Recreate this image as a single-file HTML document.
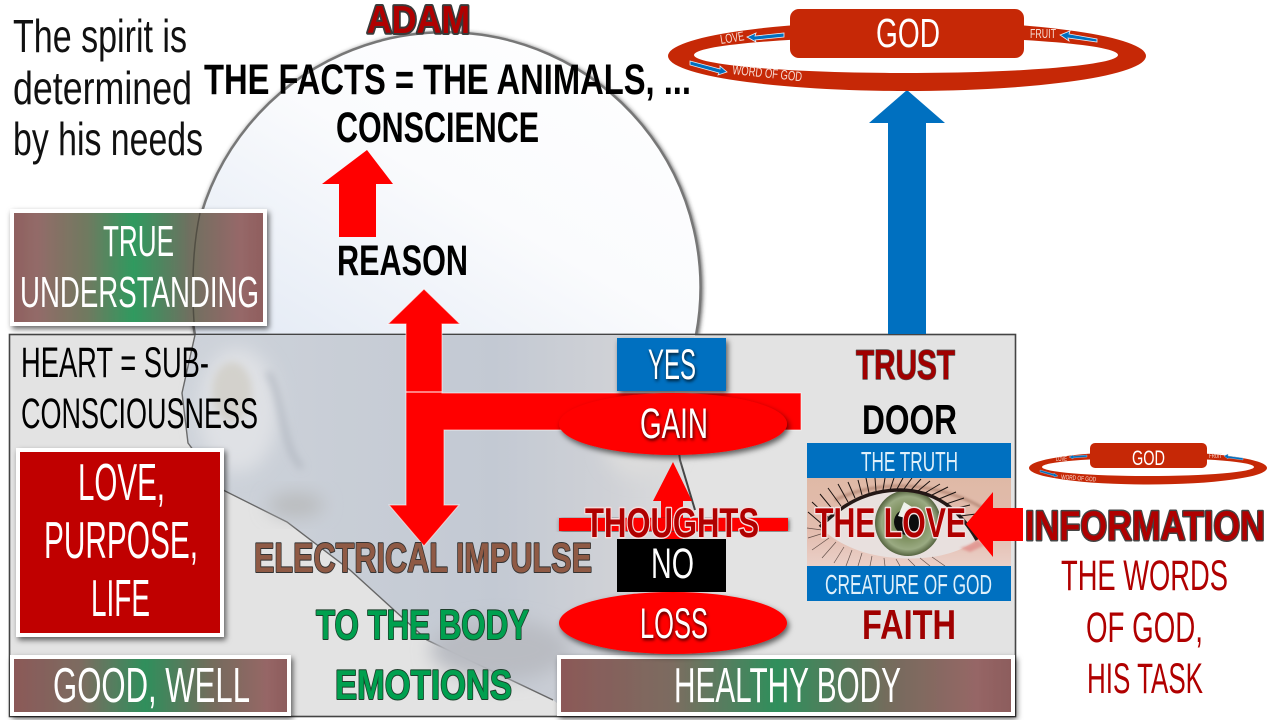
<!DOCTYPE html>
<html><head><meta charset="utf-8">
<style>
html,body{margin:0;padding:0;background:#fff;width:1280px;height:720px;overflow:hidden}
svg{display:block}
text{font-family:"Liberation Sans Narrow","Liberation Sans",sans-serif;text-anchor:start}
.b{font-weight:700}
.w{fill:#fff}
.s{fill:#fff;filter:drop-shadow(1px 2px 1.5px rgba(0,0,0,.75))}
.o{paint-order:stroke;stroke-linejoin:round}
</style></head><body>
<svg width="1280" height="720" viewBox="0 0 1280 720" xmlns="http://www.w3.org/2000/svg">
<defs>
<filter id="sh" x="-20%" y="-20%" width="140%" height="150%"><feDropShadow dx="2" dy="3" stdDeviation="3" flood-color="#000" flood-opacity=".6"/></filter>
<filter id="sh2" x="-5%" y="-5%" width="110%" height="110%"><feDropShadow dx="1" dy="1" stdDeviation="2" flood-color="#333" flood-opacity=".8"/></filter>
<filter id="bl" x="-50%" y="-50%" width="200%" height="200%"><feGaussianBlur stdDeviation="9"/></filter>
<filter id="bl2" x="-50%" y="-50%" width="200%" height="200%"><feGaussianBlur stdDeviation="4"/></filter>
<filter id="bl3" x="-50%" y="-50%" width="200%" height="200%"><feGaussianBlur stdDeviation="1.2"/></filter>
<linearGradient id="gr" x1="0" x2="1" y1="0" y2="0">
<stop offset="0" stop-color="#8e5f5f"/><stop offset=".1" stop-color="#936b68"/><stop offset=".3" stop-color="#6f7a60"/><stop offset=".48" stop-color="#2f9a5e"/><stop offset=".7" stop-color="#6f7060"/><stop offset=".9" stop-color="#966868"/><stop offset="1" stop-color="#8f5e5e"/></linearGradient>
<linearGradient id="gr2" x1="0" x2="1" y1="0" y2="0">
<stop offset="0" stop-color="#8c5858"/><stop offset=".25" stop-color="#7c6c60"/><stop offset=".48" stop-color="#2f8f5c"/><stop offset=".72" stop-color="#736c5c"/><stop offset=".92" stop-color="#966666"/><stop offset="1" stop-color="#8c5c5c"/></linearGradient>
<linearGradient id="headTop" x1="0" x2="1" y1="1" y2="0">
<stop offset="0" stop-color="#e2e9f4"/><stop offset=".5" stop-color="#fafbfd"/><stop offset="1" stop-color="#ffffff"/></linearGradient>
<linearGradient id="headLow" x1="0" x2="1" y1="0" y2="0">
<stop offset="0" stop-color="#ced3da"/><stop offset=".6" stop-color="#c3c9d3"/><stop offset=".82" stop-color="#cfd1d6"/><stop offset="1" stop-color="#dfdfdf"/></linearGradient>
<radialGradient id="iris"><stop offset="0" stop-color="#3c4a2c"/><stop offset=".45" stop-color="#7d8f5e"/><stop offset=".8" stop-color="#9aaa82"/><stop offset="1" stop-color="#55633f"/></radialGradient>
<linearGradient id="skin" x1="0" x2="0" y1="0" y2="1"><stop offset="0" stop-color="#dfb9a6"/><stop offset=".6" stop-color="#e3bcae"/><stop offset="1" stop-color="#ead0c8"/></linearGradient>
<clipPath id="boxClip"><rect x="10" y="335" width="1005" height="381"/></clipPath>
<clipPath id="eyeClip"><rect x="807" y="478" width="204" height="88"/></clipPath>
</defs>

<!-- head -->
<path d="M195,335 A255,255 0 1 1 696,335 Z" fill="url(#headTop)" stroke="#777" stroke-width="2.5" filter="url(#sh2)"/>

<!-- heart box -->
<rect x="9.5" y="334.5" width="1006" height="382" fill="#e3e3e3" stroke="#444" stroke-width="1.6"/>
<g clip-path="url(#boxClip)">
<path d="M195,335 L695,335 L672,400 L680,460 L695,510 L702,560 L690,610 L660,680 L640,717 L575,717 L553,700 L427,640 L350,570 L287,522 L223,490 L188,443 L182,393 Z" fill="url(#headLow)"/>
<path d="M195,335 L182,393 L188,443 L223,490 L287,522 L350,570 L427,640 L553,700" fill="none" stroke="#666" stroke-width="1.4"/>
<path d="M672,400 L680,460 L695,510" fill="none" stroke="#444" stroke-width="2"/>
<ellipse cx="238" cy="410" rx="40" ry="62" fill="#dfe1e5" filter="url(#bl)"/>
<ellipse cx="232" cy="392" rx="20" ry="30" fill="#d3d1cc" filter="url(#bl2)"/>
<path d="M268,372 C285,400 280,445 302,468" fill="none" stroke="#b2b8c1" stroke-width="5" filter="url(#bl2)"/>
<ellipse cx="296" cy="505" rx="28" ry="12" fill="#b9bbbd" filter="url(#bl)"/>
<ellipse cx="640" cy="445" rx="36" ry="32" fill="#dcdcdc" filter="url(#bl)"/>
<ellipse cx="500" cy="650" rx="70" ry="30" fill="#b9bcc2" filter="url(#bl)"/>
</g>

<!-- left top text -->
<text x="13" y="52" font-size="46" fill="#111" textLength="174" lengthAdjust="spacingAndGlyphs">The spirit is</text>
<text x="13" y="104" font-size="46" fill="#111" textLength="179" lengthAdjust="spacingAndGlyphs">determined</text>
<text x="13" y="155" font-size="46" fill="#111" textLength="190" lengthAdjust="spacingAndGlyphs">by his needs</text>

<text x="367" y="33" font-size="39" class="b o" fill="#b00000" stroke="#3a3a3a" stroke-width="4" textLength="103" lengthAdjust="spacingAndGlyphs">ADAM</text>
<text x="204" y="94" font-size="43" class="b" fill="#000" textLength="487" lengthAdjust="spacingAndGlyphs">THE FACTS = THE ANIMALS, ...</text>
<text x="336" y="142" font-size="43" class="b" fill="#000" textLength="203" lengthAdjust="spacingAndGlyphs">CONSCIENCE</text>
<text x="337" y="275" font-size="43" class="b" fill="#000" textLength="131" lengthAdjust="spacingAndGlyphs">REASON</text>

<!-- red up arrow -->
<path d="M367,150 L393,184 L376,184 L376,237 L339,237 L339,184 L322,184 Z" fill="#f00"/>

<!-- true understanding -->
<rect x="12" y="211" width="253" height="113" fill="url(#gr)" stroke="#fff" stroke-width="4" filter="url(#sh)"/>
<path d="M200,213 C192,250 192,290 194,322" fill="none" stroke="#000" stroke-opacity=".3" stroke-width="1.5"/>
<text x="103" y="256" font-size="44" class="w" textLength="71" lengthAdjust="spacingAndGlyphs">TRUE</text>
<text x="20" y="307" font-size="44" class="w" textLength="239" lengthAdjust="spacingAndGlyphs">UNDERSTANDING</text>

<!-- heart text -->
<text x="21" y="377" font-size="43" fill="#000" textLength="188" lengthAdjust="spacingAndGlyphs">HEART = SUB-</text>
<text x="21" y="428" font-size="43" fill="#000" textLength="237" lengthAdjust="spacingAndGlyphs">CONSCIOUSNESS</text>

<!-- love box -->
<rect x="18" y="450" width="204" height="185" fill="#c00000" stroke="#fff" stroke-width="4" filter="url(#sh)"/>
<text x="78" y="500" font-size="52" class="w" textLength="87" lengthAdjust="spacingAndGlyphs">LOVE,</text>
<text x="44" y="558" font-size="52" class="w" textLength="154" lengthAdjust="spacingAndGlyphs">PURPOSE,</text>
<text x="91" y="616" font-size="52" class="w" textLength="59" lengthAdjust="spacingAndGlyphs">LIFE</text>

<!-- bottom boxes -->
<rect x="12" y="657" width="277" height="57" fill="url(#gr2)" stroke="#fff" stroke-width="4" filter="url(#sh)"/>
<text x="53" y="702" font-size="49" class="w" textLength="197" lengthAdjust="spacingAndGlyphs">GOOD, WELL</text>
<rect x="559" y="657" width="454" height="57" fill="url(#gr2)" stroke="#fff" stroke-width="4" filter="url(#sh)"/>
<text x="674" y="702" font-size="49" class="w" textLength="227" lengthAdjust="spacingAndGlyphs">HEALTHY BODY</text>

<!-- T arrows -->
<path d="M424,289 L460,324 L442,324 L442,393 L801,393 L801,430 L444,430 L444,505 L459,505 L424,546 L389,505 L406,505 L406,324 L388,324 Z" fill="#f00" stroke="#fff" stroke-opacity=".6" stroke-width="1"/>
<line x1="406" y1="392" x2="442" y2="392" stroke="#fff" stroke-width="1"/>

<!-- yes/gain -->
<rect x="617" y="338" width="109" height="53" fill="#0070c0" filter="url(#sh)"/>
<ellipse cx="673" cy="424" rx="114" ry="31" fill="#f00" filter="url(#sh)"/>
<text x="648" y="379" font-size="43" class="s" textLength="48" lengthAdjust="spacingAndGlyphs">YES</text>
<text x="640" y="438" font-size="43" class="s" textLength="68" lengthAdjust="spacingAndGlyphs">GAIN</text>

<!-- small arrow + bar -->
<path d="M673,462 L692,501 L683,501 L683,540 L661,540 L661,501 L653,501 Z" fill="#f00"/>
<rect x="559" y="518" width="229" height="13" fill="#f00" filter="url(#sh2)"/>
<rect x="617" y="539" width="109" height="53" fill="#000"/>
<text x="651" y="578" font-size="43" class="w" textLength="43" lengthAdjust="spacingAndGlyphs">NO</text>
<ellipse cx="673" cy="623" rx="114" ry="31" fill="#f00" filter="url(#sh)"/>
<text x="640" y="638" font-size="43" class="s" textLength="68" lengthAdjust="spacingAndGlyphs">LOSS</text>
<text x="585" y="537" font-size="42" class="b o" fill="#b00000" stroke="#f4dcdc" stroke-width="3" textLength="174" lengthAdjust="spacingAndGlyphs">THOUGHTS</text>

<!-- colored labels -->
<text x="254" y="572" font-size="42" class="b o" fill="#8f5a45" stroke="#333" stroke-width="2" textLength="338" lengthAdjust="spacingAndGlyphs">ELECTRICAL IMPULSE</text>
<text x="316" y="639" font-size="42" class="b o" fill="#00a04f" stroke="#1d3d2a" stroke-width="2" textLength="213" lengthAdjust="spacingAndGlyphs">TO THE BODY</text>
<text x="335" y="699" font-size="42" class="b o" fill="#00a04f" stroke="#1d3d2a" stroke-width="2" textLength="177" lengthAdjust="spacingAndGlyphs">EMOTIONS</text>

<text x="856" y="379" font-size="42" class="b o" fill="#a00000" stroke="#555" stroke-width="1.5" textLength="99" lengthAdjust="spacingAndGlyphs">TRUST</text>
<text x="862" y="434" font-size="42" class="b" fill="#000" textLength="95" lengthAdjust="spacingAndGlyphs">DOOR</text>
<text x="862" y="639" font-size="42" class="b" fill="#a00000" textLength="94" lengthAdjust="spacingAndGlyphs">FAITH</text>

<!-- blue arrow -->
<path d="M907,90 L945,123 L926,123 L926,334 L888,334 L888,123 L869,123 Z" fill="#0070c0"/>

<!-- big ring -->
<g>
<path fill-rule="evenodd" d="M668,56 a239,35 0 1,0 478,0 a239,35 0 1,0 -478,0 Z M694,55 a212,18 0 1,1 424,0 a212,18 0 1,1 -424,0 Z" fill="#c62806"/>
<rect x="790" y="9" width="234" height="49" rx="9" fill="#c62806"/>
<text x="876" y="47" font-size="41" class="w" textLength="64" lengthAdjust="spacingAndGlyphs">GOD</text>
<text x="721" y="44" font-size="13" fill="#f6dcd4" transform="rotate(-9 721 44)" textLength="24" lengthAdjust="spacingAndGlyphs">LOVE</text>
<path d="M747,37 L756,33 L755,36 L784,33 L784,37 L755,40 L756,42 Z" fill="#0070c0" stroke="#e8eef6" stroke-width=".8"/>
<text x="1030" y="38" font-size="13" fill="#f6dcd4" textLength="26" lengthAdjust="spacingAndGlyphs">FRUIT</text>
<path d="M1060,35 L1070,31 L1069,34 L1097,39 L1097,42 L1068,38 L1069,41 Z" fill="#0070c0" stroke="#e8eef6" stroke-width=".8"/>
<path d="M690,61 L720,69 L720,66 L727,72 L718,75 L719,73 L690,65 Z" fill="#0070c0" stroke="#e8eef6" stroke-width=".8"/>
<text x="732" y="74" font-size="13.5" fill="#f6dcd4" transform="rotate(6 732 74)" textLength="70" lengthAdjust="spacingAndGlyphs">WORD OF GOD</text>
</g>

<!-- small ring -->
<g>
<path fill-rule="evenodd" d="M1029,468 a119,16.5 0 1,0 238,0 a119,16.5 0 1,0 -238,0 Z M1042,467 a106,9 0 1,1 212,0 a106,9 0 1,1 -212,0 Z" fill="#c62806"/>
<rect x="1090" y="443" width="117" height="25" rx="5" fill="#c62806"/>
<text x="1132" y="465" font-size="21" class="w" textLength="33" lengthAdjust="spacingAndGlyphs">GOD</text>
<text x="1056" y="461" font-size="6.5" fill="#f6dcd4" textLength="11" lengthAdjust="spacingAndGlyphs">LOVE</text>
<path d="M1069,457 L1073,455 L1073,456 L1087,455 L1087,457 L1073,458 L1073,459 Z" fill="#0070c0" stroke="#b9c8dc" stroke-width=".4"/>
<text x="1209" y="458" font-size="6.5" fill="#f6dcd4" textLength="13" lengthAdjust="spacingAndGlyphs">FRUIT</text>
<path d="M1224,456 L1228,454 L1228,456 L1243,458 L1243,460 L1228,458 L1228,459 Z" fill="#0070c0" stroke="#b9c8dc" stroke-width=".4"/>
<path d="M1040,470 L1054,474 L1054,473 L1058,476 L1054,477 L1054,476 L1040,472 Z" fill="#0070c0" stroke="#b9c8dc" stroke-width=".4"/>
<text x="1061" y="479" font-size="6.5" fill="#f6dcd4" transform="rotate(4 1061 479)" textLength="35" lengthAdjust="spacingAndGlyphs">WORD OF GOD</text>
</g>

<!-- eye -->
<g clip-path="url(#eyeClip)">
<rect x="807" y="478" width="204" height="88" fill="url(#skin)"/>
<path d="M835,500 C880,478 950,480 1000,520" fill="none" stroke="#a87a68" stroke-width="3" opacity=".7" filter="url(#bl3)"/>
<path d="M820,527 C848,498 875,490 900,490 C935,490 960,510 977,540 C955,556 925,560 897,558 C865,556 838,545 820,527 Z" fill="#e8e0de"/>
<path d="M960,548 C968,546 974,543 977,540 L985,545 L970,552 Z" fill="#e29a94" filter="url(#bl3)"/>
<circle cx="908" cy="523" r="33" fill="url(#iris)"/>
<circle cx="907" cy="522" r="13" fill="#0c0c0c"/>
<path d="M898,516 L904,502 L912,507 L905,518 Z" fill="#eef2ea"/>
<path d="M820,527 C848,498 875,490 900,490 C935,490 960,510 977,540" fill="none" stroke="#241816" stroke-width="3.5"/>
<g stroke="#1a1210" stroke-width="1" fill="none">
<path d="M822,524 L808,512 M828,517 L812,502 M834,511 L820,494 M841,506 L828,488 M848,502 L838,484 M855,498 L848,482 M862,495 L858,480 M869,493 L866,478 M876,491 L875,478 M883,490 L885,478 M890,490 L894,478 M897,489 L903,478 M904,489 L912,478 M911,490 L921,479 M918,491 L930,481 M925,493 L940,484 M932,495 L948,487 M939,499 L956,492 M946,504 L964,498 M953,509 L970,505 M960,516 L976,514"/>
</g>
<g stroke="#3a2a26" stroke-width=".7" fill="none" opacity=".75">
<path d="M822,530 L807,528 M824,533 L808,538 M829,538 L812,550 M836,542 L822,558 M844,547 L834,563 M852,550 L846,566 M862,553 L858,566 M872,556 L870,566 M884,558 L885,566 M896,559 L900,566 M908,559 L915,566 M920,558 L930,566 M932,557 L945,566"/>
</g>
</g>
<rect x="807" y="443" width="204" height="35" fill="#0070c0"/>
<rect x="807" y="566" width="204" height="35" fill="#0070c0"/>
<text x="861" y="471" font-size="28" fill="#dff0fa" textLength="97" lengthAdjust="spacingAndGlyphs">THE TRUTH</text>
<text x="825" y="594" font-size="28" fill="#dff0fa" textLength="167" lengthAdjust="spacingAndGlyphs">CREATURE OF GOD</text>
<text x="815" y="537" font-size="42" class="b o" fill="#b00000" stroke="#f4e4e4" stroke-width="3" textLength="151" lengthAdjust="spacingAndGlyphs">THE LOVE</text>

<!-- info arrow -->
<path d="M966,524 L993,492 L993,508 L1023,508 L1023,541 L993,541 L993,557 Z" fill="#f00"/>

<!-- right texts -->
<text x="1025" y="540" font-size="42" class="b o" fill="#b00000" stroke="#444" stroke-width="3" textLength="240" lengthAdjust="spacingAndGlyphs">INFORMATION</text>
<text x="1061" y="590" font-size="43" fill="#b00000" textLength="167" lengthAdjust="spacingAndGlyphs">THE WORDS</text>
<text x="1086" y="642" font-size="43" fill="#b00000" textLength="117" lengthAdjust="spacingAndGlyphs">OF GOD,</text>
<text x="1087" y="693" font-size="43" fill="#b00000" textLength="116" lengthAdjust="spacingAndGlyphs">HIS TASK</text>
</svg>
</body></html>
